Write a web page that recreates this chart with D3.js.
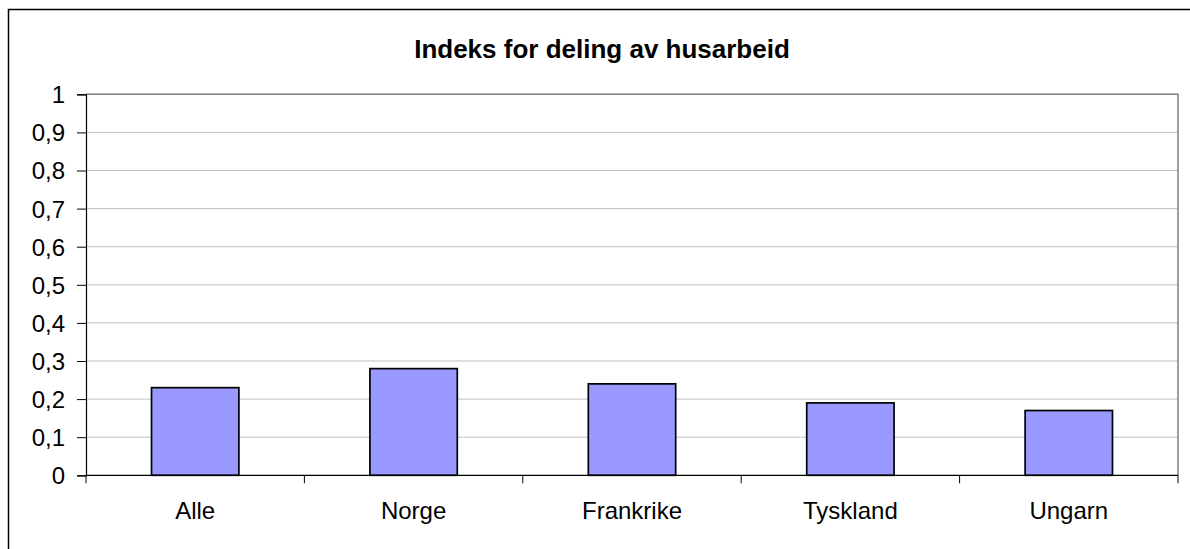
<!DOCTYPE html>
<html>
<head>
<meta charset="utf-8">
<script src="https://cdn.jsdelivr.net/npm/d3@7"></script>
<style>
  body { margin: 0; background: #fff; }
  svg { display: block; font-family: "Liberation Sans", Arial, sans-serif; }
</style>
</head>
<body>
<svg id="chart" width="1190" height="549"></svg>
<script>
// Indeks for deling av husarbeid
const categories = ["Alle", "Norge", "Frankrike", "Tyskland", "Ungarn"]
const values = [0.23, 0.28, 0.24, 0.19, 0.17]
const yTicks = [0, 0.1, 0.2, 0.3, 0.4, 0.5, 0.6, 0.7, 0.8, 0.9, 1]
const title = "Indeks for deling av husarbeid"

const svg = d3.select("#chart")

// outer chart frame (runs off the right and bottom edge)
svg.append("rect")
    .attr("x", 8.5).attr("y", 9.5)
    .attr("width", 1200).attr("height", 600)
    .attr("fill", "#fff").attr("stroke", "#000").attr("stroke-width", 1.5)

const m = {left: 86, top: 94.3, right: 1178, bottom: 475.3}

const band = d3.scaleBand().domain(categories).range([m.left, m.right])
const y = d3.scaleLinear().domain([0, 1]).range([m.bottom, m.top])

// gridlines
svg.append("g")
    .selectAll("line")
    .data(yTicks.slice(1))
    .join("line")
    .attr("x1", m.left).attr("x2", m.right)
    .attr("y1", d => y(d)).attr("y2", d => y(d))
    .attr("stroke", "#c0c0c0").attr("stroke-width", 1)

// plot border top/right
svg.append("path")
    .attr("d", `M${m.left},${m.top}H${m.right}V${m.bottom}`)
    .attr("fill", "none").attr("stroke", "#808080").attr("stroke-width", 1.5)

// bars
svg.append("g")
    .selectAll("rect")
    .data(categories)
    .join("rect")
    .attr("x", d => band(d) + band.bandwidth() / 2 - band.bandwidth() * 0.2)
    .attr("width", band.bandwidth() * 0.4)
    .attr("y", (d, i) => y(values[i]))
    .attr("height", (d, i) => y(0) - y(values[i]))
    .attr("fill", "#9999ff").attr("stroke", "#000").attr("stroke-width", 1.7)

// y axis
const yAxis = d3.axisLeft(y)
    .tickValues(yTicks)
    .tickSize(9).tickPadding(12)
    .tickFormat(d => String(d).replace(".", ","))

svg.append("g")
    .attr("transform", `translate(${m.left},0)`)
    .call(yAxis)
    .call(g => g.select(".domain").attr("stroke", "#000").attr("stroke-width", 1.2))
    .call(g => g.selectAll(".tick line").attr("stroke", "#000"))
    .call(g => g.selectAll(".tick text")
        .attr("fill", "#000").attr("dy", "0.35em")
        .style("font-size", "24px")
        .style("font-family", "Liberation Sans, Arial, sans-serif"))

// x axis with ticks at category boundaries
svg.append("line")
    .attr("x1", m.left).attr("x2", m.right)
    .attr("y1", m.bottom).attr("y2", m.bottom)
    .attr("stroke", "#000").attr("stroke-width", 1.2)

const bounds = categories.map(d => band(d)).concat([m.right])
svg.append("g")
    .selectAll("line")
    .data(bounds)
    .join("line")
    .attr("x1", d => d).attr("x2", d => d)
    .attr("y1", m.bottom).attr("y2", m.bottom + 8)
    .attr("stroke", "#000")

svg.append("g")
    .selectAll("text")
    .data(categories)
    .join("text")
    .attr("x", d => band(d) + band.bandwidth() / 2)
    .attr("y", 519)
    .attr("text-anchor", "middle")
    .style("font-size", "24px")
    .text(d => d)

svg.append("text")
    .attr("x", 602).attr("y", 58)
    .attr("text-anchor", "middle")
    .style("font-size", "26px").attr("font-weight", "bold")
    .text(title)
</script>
</body>
</html>
